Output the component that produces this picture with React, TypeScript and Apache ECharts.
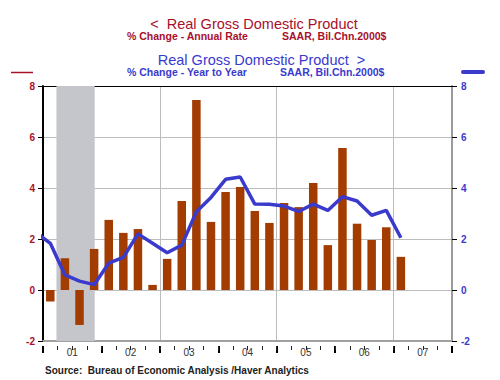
import React, { useEffect, useRef } from "react";
import * as echarts from "echarts";

const barQuarters = [
  "2001Q1", "2001Q2", "2001Q3", "2001Q4",
  "2002Q1", "2002Q2", "2002Q3", "2002Q4",
  "2003Q1", "2003Q2", "2003Q3", "2003Q4",
  "2004Q1", "2004Q2", "2004Q3", "2004Q4",
  "2005Q1", "2005Q2", "2005Q3", "2005Q4",
  "2006Q1", "2006Q2", "2006Q3", "2006Q4",
  "2007Q1",
];
const annualRate = [
  -0.45, 1.25, -1.37, 1.61,
  2.75, 2.24, 2.39, 0.2,
  1.22, 3.49, 7.45, 2.67,
  3.84, 4.04, 3.1, 2.63,
  3.41, 3.25, 4.2, 1.76,
  5.57, 2.6, 1.96, 2.46,
  1.3,
];
const lineQuarters = ["2000Q4", ...barQuarters];
const yearToYear = [
  2.27,
  1.83, 0.59, 0.35, 0.21,
  1.05, 1.28, 2.2, 1.83,
  1.46, 1.76, 3.07, 3.63,
  4.34, 4.43, 3.37, 3.36,
  3.29, 3.08, 3.37, 3.12,
  3.66, 3.49, 2.93, 3.12,
  2.05,
];
const yearLabels = ["01", "02", "03", "04", "05", "06", "07"];
const recession = [2001.23, 2001.885];
const xMin = 2001;
const xMax = 2008;
const yTicks = { min: -2, max: 8, interval: 2 };

const toX = (q: string) => {
  const y = parseInt(q.slice(0, 4), 10);
  const n = parseInt(q.slice(5), 10);
  return y + (n - 0.5) / 4;
};

const FONT = '"Liberation Sans", Arial, Helvetica, sans-serif';
const RED = "#a8102c";
const BLUE = "#3a3acc";
const BAR = "#a33c00";
const GRID = "#bcbcbc";

export default function App() {
  const ref = useRef<HTMLDivElement>(null);
  useEffect(() => {
    if (!ref.current) return;
    const chart = echarts.init(ref.current, null, { renderer: "svg" });
    chart.setOption({
      animation: false,
      backgroundColor: "#ffffff",
      grid: { left: 43, right: 48, top: 86, bottom: 39, containLabel: false },
      graphic: [
        { type: "text", x: 254, y: 23.5, style: { text: "<  Real Gross Domestic Product", fill: RED, font: `14.5px ${FONT}`, textAlign: "center", textVerticalAlign: "middle" } },
        { type: "text", x: 127, y: 36, style: { text: "% Change - Annual Rate", fill: RED, font: `bold 10.5px ${FONT}`, textAlign: "left", textVerticalAlign: "middle" } },
        { type: "text", x: 282, y: 36, style: { text: "SAAR, Bil.Chn.2000$", fill: RED, font: `bold 10.5px ${FONT}`, textAlign: "left", textVerticalAlign: "middle" } },
        { type: "text", x: 261.5, y: 59.5, style: { text: "Real Gross Domestic Product  >", fill: BLUE, font: `14.5px ${FONT}`, textAlign: "center", textVerticalAlign: "middle" } },
        { type: "text", x: 127, y: 72, style: { text: "% Change - Year to Year", fill: BLUE, font: `bold 10.5px ${FONT}`, textAlign: "left", textVerticalAlign: "middle" } },
        { type: "text", x: 280, y: 72, style: { text: "SAAR, Bil.Chn.2000$", fill: BLUE, font: `bold 10.5px ${FONT}`, textAlign: "left", textVerticalAlign: "middle" } },
        { type: "line", shape: { x1: 11, y1: 72.5, x2: 33, y2: 72.5 }, style: { stroke: RED, lineWidth: 1.5 } },
        { type: "line", shape: { x1: 463, y1: 72, x2: 483, y2: 72 }, style: { stroke: BLUE, lineWidth: 4, lineCap: "round" } },
        { type: "text", x: 45, y: 370, style: { text: "Source:  Bureau of Economic Analysis /Haver Analytics", fill: "#222222", font: `bold 10px ${FONT}`, textAlign: "left", textVerticalAlign: "middle" } },
      ],
      xAxis: [
        {
          type: "value", min: xMin, max: xMax, position: "bottom",
          axisLine: { show: true, onZero: false, lineStyle: { color: "#a0a0a0", width: 2 } },
          axisTick: { show: false }, axisLabel: { show: false }, splitLine: { show: false },
        },
        {
          type: "value", min: xMin, max: xMax, interval: 2, position: "top",
          axisLine: { show: true, onZero: false, lineStyle: { color: "#000000", width: 1 } },
          axisTick: { show: false }, axisLabel: { show: false },
          splitLine: { show: true, lineStyle: { color: GRID, width: 1 } },
        },
        {
          type: "value", min: xMin, max: xMax, interval: 1, position: "bottom", offset: 5,
          axisLine: { show: false, onZero: false },
          axisTick: { show: true, length: 7, lineStyle: { color: "#000000", width: 2 } },
          axisLabel: { show: false }, splitLine: { show: false },
        },
        {
          type: "value", min: xMin, max: xMax, interval: 0.25, position: "bottom", offset: 5,
          axisLine: { show: false, onZero: false },
          axisTick: { show: true, length: 4, lineStyle: { color: "#222222", width: 1 } },
          axisLabel: {
            show: true, margin: 1, color: "#333333", fontSize: 10, fontFamily: FONT,
            showMinLabel: false, showMaxLabel: false,
            formatter: (v: number) => {
              const frac = Math.round((v - Math.floor(v)) * 100);
              if (frac !== 50) return "";
              const i = Math.floor(v) - xMin;
              return yearLabels[i] ?? "";
            },
          },
          splitLine: { show: false },
        },
      ],
      yAxis: [
        {
          type: "value", position: "left", ...yTicks,
          axisLine: { show: true, onZero: false, lineStyle: { color: "#000000", width: 2 } },
          axisTick: { show: true, length: 5, lineStyle: { color: "#000000", width: 1 } },
          axisLabel: { color: RED, fontSize: 10, fontWeight: "bold", fontFamily: FONT, margin: 8 },
          splitLine: { show: true, lineStyle: { color: GRID, width: 1 } },
        },
        {
          type: "value", position: "right", ...yTicks,
          axisLine: { show: true, onZero: false, lineStyle: { color: "#9a9a9a", width: 2 } },
          axisTick: { show: true, length: 5, lineStyle: { color: "#000000", width: 1 } },
          axisLabel: { color: BLUE, fontSize: 10, fontWeight: "bold", fontFamily: FONT, margin: 9 },
          splitLine: { show: false },
        },
      ],
      series: [
        {
          type: "bar",
          xAxisIndex: 0,
          yAxisIndex: 0,
          barWidth: 8.5,
          itemStyle: { color: BAR },
          data: barQuarters.map((q, i) => [toX(q), annualRate[i]]),
          markArea: {
            silent: true,
            itemStyle: { color: "#c5c6cb" },
            data: [[{ xAxis: recession[0] }, { xAxis: recession[1] }]],
          },
          z: 3,
        },
        {
          type: "line",
          xAxisIndex: 0,
          yAxisIndex: 1,
          clip: true,
          showSymbol: false,
          symbol: "none",
          lineStyle: { color: BLUE, width: 3.5 },
          data: lineQuarters.map((q, i) => [toX(q), yearToYear[i]]),
          z: 4,
        },
      ],
    });
    return () => chart.dispose();
  }, []);
  return (
    <div
      ref={ref}
      style={{ position: "fixed", left: 0, top: 0, width: 500, height: 380 }}
    />
  );
}
